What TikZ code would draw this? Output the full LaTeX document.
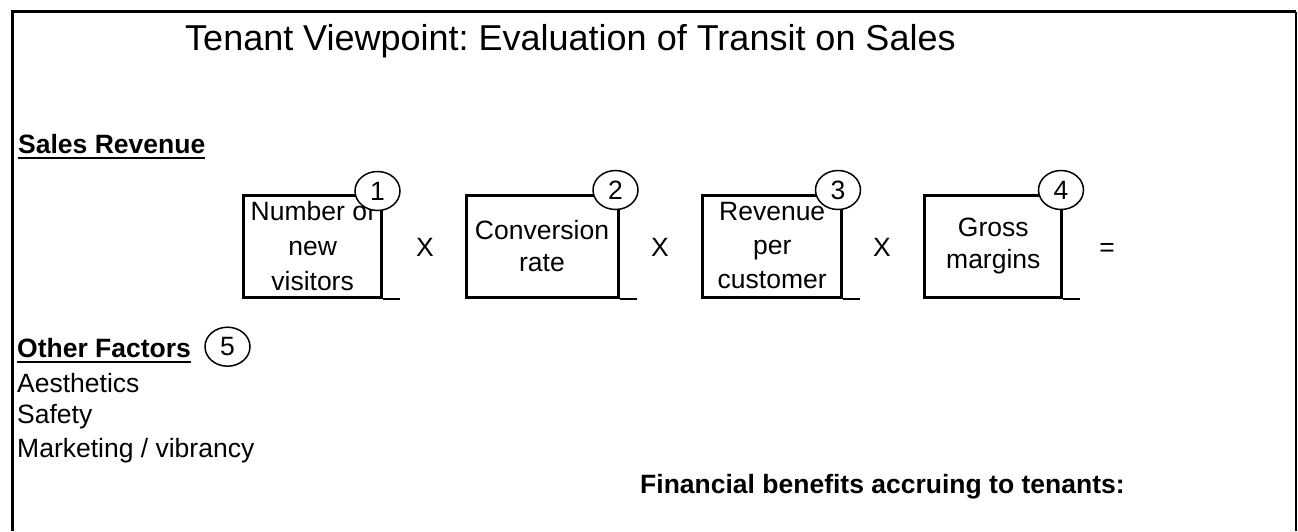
\documentclass[tikz,border=0pt]{standalone}
\usepackage{fontspec}
\setmainfont{Liberation Sans}
\usetikzlibrary{shapes.geometric}
\frenchspacing
\begin{document}
\begin{tikzpicture}[x=1pt,y=-1pt,
  txt/.style={inner sep=0pt,anchor=base west,font=\fontsize{26.5}{32}\selectfont},
  btxt/.style={inner sep=0pt,anchor=base west,font=\fontsize{26.5}{32}\selectfont\bfseries},
  factorbox/.style={draw,line width=3pt,rectangle,inner sep=0pt,minimum height=102pt,align=center},
  numcirc/.style={draw,fill=white,ellipse,line width=1.5pt,inner sep=0pt,minimum width=45pt,minimum height=39pt,font=\fontsize{26.5}{32}\selectfont},
  opsym/.style={inner sep=0pt,anchor=base,font=\fontsize{26.5}{32}\selectfont}]
\useasboundingbox (0,0) rectangle (1298,531);
% frame (no bottom side)
\draw[line width=3pt] (12,531) -- (12,11.5) -- (1296,11.5);
\draw[line width=1.5pt] (1296,11.5) -- (1296,531);
% title
\node[inner sep=0pt,anchor=base west,font=\fontsize{36}{40}\selectfont] (title) at (185,50) {Tenant Viewpoint: Evaluation of Transit on Sales};
% headings
\node[btxt] (sales) at (18,153) {Sales Revenue};
\draw[line width=2pt] (sales.base west) ++(0,5) -- ([yshift=-5pt]sales.base east);
\node[btxt] (other) at (17,357) {Other Factors};
\draw[line width=2pt] (other.base west) ++(0,5) -- ([yshift=-5pt]other.base east);
\node[txt] (aes) at (17,392) {Aesthetics};
\node[txt] (saf) at (17,423) {Safety};
\node[txt] (mkt) at (17,457) {Marketing / vibrancy};
\node[btxt] (fin) at (640,493) {Financial benefits accruing to tenants:};
% boxes
\node[factorbox,minimum width=138pt,font=\fontsize{26.5}{35}\selectfont] (b1) at (312.6,246) {Number of\\new\\visitors};
\node[factorbox,minimum width=152pt,font=\fontsize{26.5}{32}\selectfont] (b2) at (542,246) {Conversion\\rate};
\node[factorbox,minimum width=139pt,font=\fontsize{26.5}{34}\selectfont] (b3) at (772.2,246) {Revenue\\per\\customer};
\node[factorbox,minimum width=137pt,font=\fontsize{26.5}{32}\selectfont] (b4) at (993.3,246) {Gross\\margins};
\foreach \b in {b1,b2,b3,b4}{
  \draw[line width=2pt] (\b.south east) -- ++(17,0);
}
% operators
\node[opsym] (x1) at (425,256) {X};
\node[opsym] (x2) at (660,256) {X};
\node[opsym] (x3) at (882,256) {X};
\node[opsym] (eq) at (1107,256) {=};
% numbered circles
\node[numcirc] (n1) at (377.5,191) {1};
\node[numcirc] (n2) at (615.5,190) {2};
\node[numcirc] (n3) at (838,190) {3};
\node[numcirc] (n4) at (1061,190) {4};
\node[numcirc] (n5) at (227.5,346.7) {5};
\end{tikzpicture}
\end{document}
